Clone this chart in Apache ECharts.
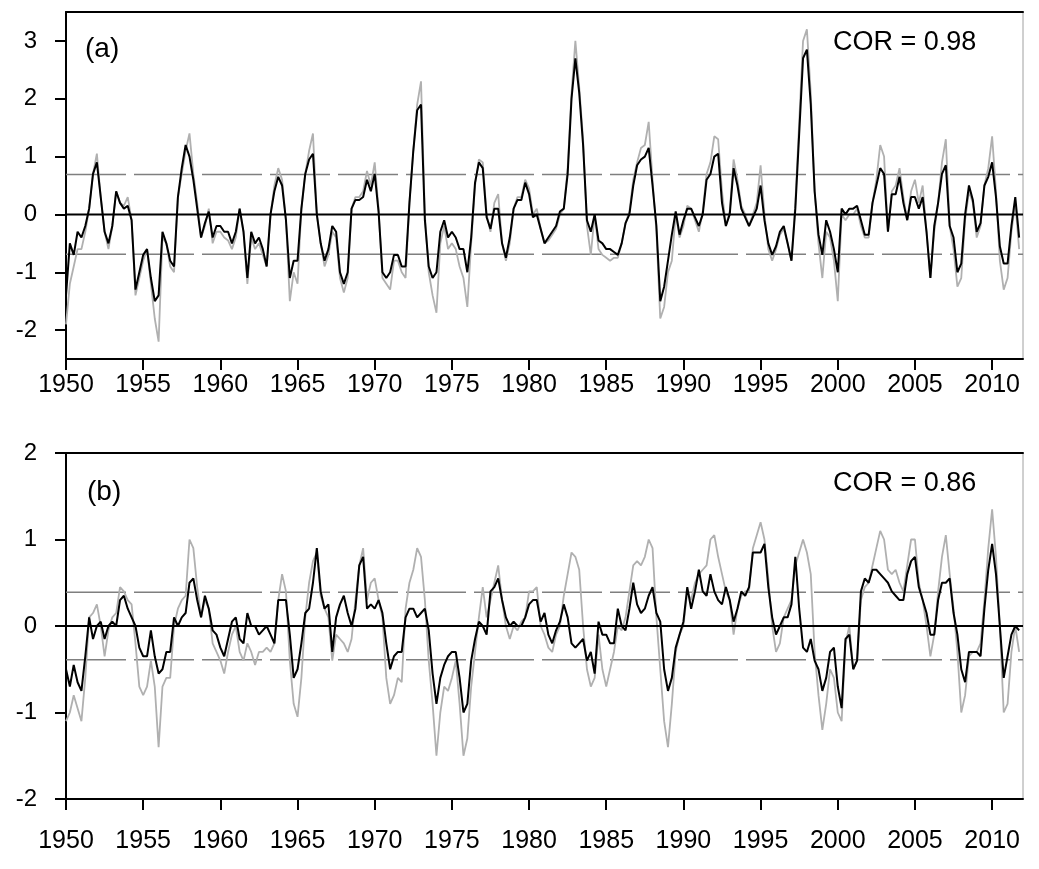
<!DOCTYPE html>
<html><head><meta charset="utf-8">
<script src="https://cdn.jsdelivr.net/npm/echarts@6/dist/echarts.min.js"></script>
<style>html,body{margin:0;padding:0;background:#fff}#c{width:1039px;height:869px}</style>
</head><body><div id="c"></div>
<script>
// ---- data (quarterly samples) ----
const START_YEAR = 1950, STEP = 0.25, END_YEAR = 2012;
const xTicks = [1950,1955,1960,1965,1970,1975,1980,1985,1990,1995,2000,2005,2010];
const yTicksA = [-2,-1,0,1,2,3];
const yTicksB = [-2,-1,0,1,2];
const threshA = 0.69, threshB = 0.39;
const labelA = '(a)', labelB = '(b)';
const corA = 'COR = 0.98', corB = 'COR = 0.86';

const panelA_black = [
-1.4,-0.5,-0.7,-0.3, -0.4,-0.2,0.1,0.7, 0.9,0.3,-0.3,-0.5, -0.2,0.4,0.2,0.1, 0.15,-0.1,-1.3,-1.0,
-0.7,-0.6,-1.1,-1.5, -1.4,-0.3,-0.5,-0.8, -0.9,0.3,0.8,1.2, 1.0,0.6,0.1,-0.4, -0.15,0.05,-0.4,-0.2,
-0.2,-0.3,-0.3,-0.5, -0.3,0.1,-0.3,-1.1, -0.3,-0.5,-0.4,-0.6, -0.9,0.0,0.4,0.65, 0.5,-0.1,-1.1,-0.8,
-0.8,0.1,0.7,0.95, 1.05,0.0,-0.5,-0.8, -0.6,-0.2,-0.3,-1.0, -1.2,-1.0,0.1,0.25, 0.25,0.3,0.6,0.4,
0.7,0.05,-1.0,-1.1, -1.0,-0.7,-0.7,-0.9, -0.9,0.2,1.1,1.8, 1.9,-0.1,-0.9,-1.1, -1.0,-0.3,-0.1,-0.4,
-0.3,-0.4,-0.6,-0.6, -1.0,-0.4,0.55,0.9, 0.8,-0.05,-0.25,0.1, 0.1,-0.5,-0.75,-0.4, 0.1,0.25,0.25,0.55,
0.35,-0.05,0.0,-0.25, -0.5,-0.4,-0.3,-0.2, 0.05,0.1,0.7,2.0, 2.7,2.1,1.2,-0.1, -0.3,0.0,-0.45,-0.5,
-0.6,-0.6,-0.65,-0.7, -0.5,-0.15,0.0,0.5, 0.85,0.95,1.0,1.15, 0.5,-0.2,-1.5,-1.25, -0.8,-0.35,0.05,-0.35,
-0.1,0.1,0.1,-0.05, -0.2,0.0,0.6,0.7, 1.0,1.05,0.2,-0.2, 0.0,0.8,0.5,0.1, -0.05,-0.2,-0.05,0.1,
0.5,-0.1,-0.5,-0.7, -0.55,-0.3,-0.2,-0.5, -0.8,0.1,1.4,2.7, 2.85,1.9,0.4,-0.35, -0.7,-0.1,-0.3,-0.6,
-1.0,0.1,0.0,0.1, 0.1,0.15,-0.1,-0.35, -0.35,0.2,0.5,0.8, 0.7,-0.3,0.35,0.35, 0.65,0.2,-0.1,0.3,
0.3,0.1,0.3,-0.3, -1.1,-0.2,0.2,0.7, 0.85,-0.2,-0.4,-1.0, -0.85,0.0,0.5,0.25, -0.3,-0.15,0.5,0.65,
0.9,0.3,-0.55,-0.85, -0.85,-0.2,0.3,-0.4
];
const panelA_gray = [
-1.9,-1.2,-0.9,-0.6, -0.6,-0.3,0.1,0.7, 1.05,0.3,-0.3,-0.6, -0.2,0.4,0.2,0.15, 0.3,-0.1,-1.4,-1.1,
-0.8,-0.6,-1.2,-1.8, -2.2,-0.4,-0.5,-0.9, -1.0,0.3,0.7,1.1, 1.4,0.7,0.2,-0.4, -0.2,0.1,-0.5,-0.3,
-0.3,-0.4,-0.45,-0.6, -0.4,0.1,-0.3,-1.2, -0.4,-0.6,-0.5,-0.7, -0.9,0.0,0.5,0.8, 0.6,-0.1,-1.5,-1.0,
-1.2,0.1,0.7,1.1, 1.4,0.0,-0.5,-0.9, -0.7,-0.3,-0.4,-1.1, -1.35,-1.1,0.1,0.3, 0.3,0.4,0.75,0.5,
0.9,0.1,-1.1,-1.2, -1.3,-0.8,-0.8,-1.0, -1.1,0.2,1.1,1.9, 2.3,0.0,-1.0,-1.4, -1.7,-0.5,-0.2,-0.6,
-0.5,-0.6,-0.9,-1.1, -1.6,-0.5,0.5,0.95, 0.9,0.0,-0.3,0.2, 0.35,-0.5,-0.8,-0.5, 0.1,0.3,0.3,0.6,
0.45,0.0,0.1,-0.25, -0.5,-0.45,-0.35,-0.25, 0.0,0.1,0.8,2.1, 3.0,2.2,1.3,-0.2, -0.7,0.0,-0.6,-0.7,
-0.75,-0.8,-0.75,-0.75, -0.5,-0.15,0.05,0.6, 0.9,1.15,1.2,1.6, 0.6,-0.3,-1.8,-1.6, -1.0,-0.8,0.0,-0.4,
-0.2,0.15,0.1,-0.1, -0.3,0.05,0.7,0.9, 1.35,1.3,0.4,-0.2, 0.05,0.95,0.6,0.15, 0.0,-0.2,0.0,0.2,
0.85,0.0,-0.6,-0.8, -0.6,-0.35,-0.25,-0.5, -0.8,0.2,1.6,3.0, 3.2,2.1,0.4,-0.5, -1.1,-0.3,-0.4,-0.8,
-1.5,0.0,-0.1,0.0, 0.0,0.1,-0.2,-0.4, -0.4,0.2,0.6,1.2, 1.0,-0.3,0.4,0.5, 0.8,0.3,-0.1,0.4,
0.6,0.2,0.5,-0.3, -1.1,-0.3,0.2,0.9, 1.3,-0.2,-0.6,-1.25, -1.1,-0.1,0.4,0.2, -0.4,-0.2,0.5,0.8,
1.35,0.4,-0.8,-1.3, -1.1,-0.3,0.2,-0.6
];
const panelB_black = [
-0.5,-0.7,-0.45,-0.65, -0.75,-0.35,0.1,-0.15, 0.0,0.05,-0.15,0.0, 0.05,0.0,0.3,0.35, 0.2,0.1,0.0,-0.25,
-0.35,-0.35,-0.05,-0.35, -0.55,-0.5,-0.3,-0.3, 0.1,0.0,0.1,0.15, 0.5,0.55,0.3,0.1, 0.35,0.2,-0.05,-0.1,
-0.25,-0.35,-0.15,0.05, 0.1,-0.15,-0.2,0.15, 0.0,0.0,-0.1,-0.05, 0.0,-0.1,-0.2,0.3, 0.3,0.3,-0.1,-0.6,
-0.5,-0.2,0.15,0.2, 0.5,0.9,0.4,0.2, 0.25,-0.3,0.1,0.25, 0.35,0.15,0.0,0.2, 0.7,0.8,0.2,0.25,
0.2,0.3,0.15,-0.2, -0.5,-0.35,-0.3,-0.3, 0.1,0.2,0.2,0.1, 0.15,0.2,-0.05,-0.55, -0.9,-0.6,-0.45,-0.35,
-0.3,-0.3,-0.6,-1.0, -0.9,-0.4,-0.15,0.05, 0.0,-0.1,0.4,0.45, 0.55,0.3,0.1,0.0, 0.05,0.0,0.0,0.1,
0.25,0.3,0.3,0.05, 0.15,-0.1,-0.2,-0.05, 0.05,0.25,0.1,-0.2, -0.25,-0.2,-0.15,-0.4, -0.3,-0.55,0.05,-0.1,
-0.1,-0.2,-0.2,0.2, 0.0,-0.05,0.2,0.5, 0.25,0.15,0.2,0.35, 0.45,0.15,0.05,-0.5, -0.75,-0.6,-0.25,-0.1,
0.05,0.45,0.2,0.4, 0.65,0.4,0.35,0.6, 0.4,0.3,0.25,0.45, 0.3,0.05,0.2,0.4, 0.35,0.45,0.85,0.85,
0.85,0.95,0.45,0.1, -0.1,0.0,0.1,0.1, 0.25,0.8,0.2,-0.25, -0.3,-0.15,-0.4,-0.5, -0.75,-0.6,-0.3,-0.25,
-0.7,-0.95,-0.15,-0.1, -0.5,-0.4,0.4,0.55, 0.5,0.65,0.65,0.6, 0.55,0.5,0.4,0.35, 0.3,0.3,0.6,0.75,
0.8,0.45,0.3,0.15, -0.1,-0.1,0.3,0.5, 0.5,0.55,0.15,-0.1, -0.5,-0.65,-0.3,-0.3, -0.3,-0.35,0.2,0.65,
0.95,0.6,0.0,-0.6, -0.35,-0.1,0.0,-0.05
];
const panelB_gray = [
-1.1,-1.0,-0.8,-0.95, -1.1,-0.6,0.1,0.15, 0.25,0.0,-0.35,-0.05, 0.1,0.15,0.45,0.4, 0.3,0.25,-0.2,-0.7,
-0.8,-0.7,-0.4,-0.7, -1.4,-0.7,-0.6,-0.6, 0.0,0.2,0.3,0.35, 1.0,0.9,0.45,0.1, 0.3,0.2,-0.2,-0.3,
-0.4,-0.55,-0.3,-0.1, 0.0,-0.3,-0.4,-0.2, -0.3,-0.45,-0.3,-0.3, -0.25,-0.3,-0.2,0.3, 0.6,0.4,-0.4,-0.9,
-1.05,-0.6,0.1,0.5, 0.75,0.85,0.35,0.2, 0.1,-0.4,-0.1,-0.15, -0.2,-0.3,-0.15,0.3, 0.7,0.9,0.3,0.5,
0.55,0.3,0.1,-0.6, -0.9,-0.8,-0.6,-0.65, 0.2,0.5,0.65,0.9, 0.8,0.3,-0.4,-0.9, -1.5,-1.0,-0.7,-0.75,
-0.6,-0.4,-0.9,-1.5, -1.3,-0.7,-0.3,0.1, 0.45,0.1,0.3,0.5, 0.7,0.3,0.0,-0.15, 0.0,-0.05,0.05,0.1,
0.4,0.4,0.45,0.0, -0.1,-0.25,-0.3,-0.1, 0.0,0.35,0.6,0.85, 0.8,0.65,0.0,-0.5, -0.7,-0.6,-0.1,-0.5,
-0.7,-0.5,-0.3,0.0, -0.05,0.1,0.4,0.7, 0.75,0.7,0.8,1.0, 0.9,0.1,-0.5,-1.1, -1.4,-0.9,-0.3,-0.1,
0.0,0.4,0.3,0.5, 0.6,0.65,0.7,1.0, 1.05,0.8,0.6,0.4, 0.3,-0.1,0.2,0.35, 0.4,0.4,0.9,1.05,
1.2,1.0,0.55,0.0, -0.3,-0.2,0.1,0.2, 0.3,0.7,0.85,1.0, 0.85,0.6,-0.3,-0.8, -1.2,-0.9,-0.5,-0.6,
-1.0,-1.1,-0.2,0.0, -0.5,-0.4,0.3,0.45, 0.5,0.7,0.9,1.1, 1.0,0.65,0.6,0.65, 0.5,0.4,0.7,1.0,
1.0,0.5,0.3,0.0, -0.35,-0.1,0.4,0.8, 1.05,0.6,0.2,-0.3, -1.0,-0.8,-0.35,-0.3, -0.3,-0.2,0.3,0.9,
1.35,0.8,0.0,-1.0, -0.9,-0.3,0.0,-0.3
];

// ---- build ----
const toPairs = arr => arr.map((v, i) => [START_YEAR + i * STEP, v]);
const hline = v => [[START_YEAR, v], [END_YEAR, v]];
const FONT = "'Liberation Sans', Arial, sans-serif";
const plain = v => String(v);

function xAxes(gi, labelMargin) {
  return [{
    type: 'value', gridIndex: gi, min: START_YEAR, max: END_YEAR, position: 'bottom',
    axisLine: {show: true, onZero: false, lineStyle: {color: '#000', width: 2}},
    axisTick: {show: true, inside: false, length: 11, customValues: xTicks, lineStyle: {color: '#000', width: 2}},
    axisLabel: {show: true, customValues: xTicks, formatter: plain, margin: labelMargin, color: '#000', fontSize: 25, fontFamily: FONT},
    splitLine: {show: false}
  }, {
    type: 'value', gridIndex: gi, min: START_YEAR, max: END_YEAR, position: 'top',
    axisLine: {show: true, onZero: false, lineStyle: {color: '#000', width: 2}},
    axisTick: {show: false}, axisLabel: {show: false}, splitLine: {show: false}
  }];
}
function yAxis(gi, mn, mx, ticks) {
  return {
    type: 'value', gridIndex: gi, min: mn, max: mx, position: 'left',
    axisLine: {show: true, onZero: false, lineStyle: {color: '#000', width: 2}},
    axisTick: {show: true, inside: false, length: 11, customValues: ticks, lineStyle: {color: '#000', width: 2}},
    axisLabel: {show: true, customValues: ticks, formatter: plain, margin: 29, color: '#000', fontSize: 24, fontFamily: FONT},
    splitLine: {show: false}
  };
}
function panelSeries(gi, gray, black, th) {
  const xi = gi * 2, yi = gi;
  const base = {type: 'line', xAxisIndex: xi, yAxisIndex: yi, showSymbol: false, symbol: 'none', animation: false, silent: true};
  return [
    Object.assign({}, base, {data: hline(th), lineStyle: {color: '#7f7f7f', width: 1.6, type: [60, 8]}, z: 1}),
    Object.assign({}, base, {data: hline(-th), lineStyle: {color: '#7f7f7f', width: 1.6, type: [60, 8]}, z: 1}),
    Object.assign({}, base, {data: toPairs(gray), lineStyle: {color: '#b0b0b0', width: 1.8}, z: 2}),
    Object.assign({}, base, {data: hline(0), lineStyle: {color: '#000', width: 2}, z: 3}),
    Object.assign({}, base, {data: toPairs(black), lineStyle: {color: '#000', width: 2}, z: 4})
  ];
}

const chart = echarts.init(document.getElementById('c'), null, {renderer: 'canvas'});
chart.setOption({
  animation: false,
  backgroundColor: '#fff',
  grid: [
    {left: 66, right: 16, top: 12, height: 347, show: true, borderColor: '#a0a0a0', borderWidth: 1, backgroundColor: 'transparent'},
    {left: 66, right: 16, top: 453, height: 346, show: true, borderColor: '#a0a0a0', borderWidth: 1, backgroundColor: 'transparent'}
  ],
  xAxis: [...xAxes(0, 14), ...xAxes(1, 30)],
  yAxis: [yAxis(0, -2.5, 3.5, yTicksA), yAxis(1, -2, 2, yTicksB)],
  series: [...panelSeries(0, panelA_gray, panelA_black, threshA), ...panelSeries(1, panelB_gray, panelB_black, threshB)],
  graphic: [
    {type: 'text', left: 85, top: 35, style: {text: labelA, fontSize: 28, fontFamily: FONT, fill: '#000'}},
    {type: 'text', left: 833, top: 29, style: {text: corA, fontSize: 27, fontFamily: FONT, fill: '#000'}},
    {type: 'text', left: 87, top: 478, style: {text: labelB, fontSize: 28, fontFamily: FONT, fill: '#000'}},
    {type: 'text', left: 833, top: 470, style: {text: corB, fontSize: 27, fontFamily: FONT, fill: '#000'}}
  ]
});
</script></body></html>
